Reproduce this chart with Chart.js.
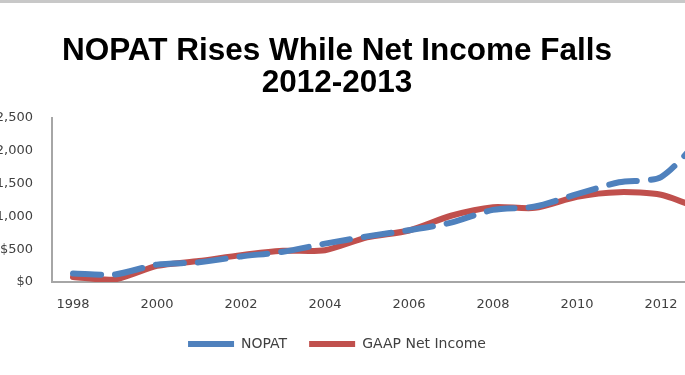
<!DOCTYPE html>
<html>
<head>
<meta charset="utf-8">
<script src="https://cdn.jsdelivr.net/npm/chart.js@4"></script>
<style>
  html, body { margin: 0; padding: 0; background: #fff; overflow: hidden; }
  body { width: 685px; height: 375px; position: relative; }
  #topEdge { position: absolute; left: 0; top: 0; width: 685px; height: 3px; background: #c8c8c8; z-index: 2; }
  #nopatChart { position: absolute; left: -50px; top: 0; }
</style>
</head>
<body>
<div id="topEdge"></div>
<canvas id="nopatChart" width="790" height="375"></canvas>
<script>
const years = ['1998', '1999', '2000', '2001', '2002', '2003', '2004', '2005',
               '2006', '2007', '2008', '2009', '2010', '2011', '2012', '2013'];
const nopat = [130, 115, 265, 300, 390, 460, 585, 695, 790, 905, 1100, 1150, 1340, 1520, 1600, 2230];
const netIncome = [75, 40, 245, 320, 410, 475, 485, 680, 785, 1010, 1140, 1130, 1300, 1370, 1330, 1100];
const yTicks = [0, 500, 1000, 1500, 2000, 2500];

let nopatChart;

document.addEventListener('DOMContentLoaded', () => {
    const ctx = document.getElementById('nopatChart').getContext('2d');
    const tickFont = { family: 'DejaVu Sans', size: 13 };

    nopatChart = new Chart(ctx, {
        type: 'line',
        data: {
            labels: years,
            datasets: [{
                label: 'NOPAT',
                data: nopat,
                borderColor: '#4f81bd',
                borderWidth: 6,
                borderDash: [28, 14],
                borderCapStyle: 'round',
                tension: 0.25,
                pointRadius: 0,
                fill: false
            }, {
                label: 'GAAP Net Income',
                data: netIncome,
                borderColor: '#c0504d',
                borderWidth: 6,
                borderCapStyle: 'round',
                tension: 0.25,
                pointRadius: 0,
                fill: false
            }]
        },
        options: {
            responsive: false,
            animation: false,
            layout: { padding: { left: 0, right: 16, top: 0, bottom: 14 } },
            plugins: {
                title: {
                    display: true,
                    text: ['NOPAT Rises While Net Income Falls', '2012-2013'],
                    color: '#000',
                    font: { family: 'Liberation Sans', size: 31.5, weight: 'bold', lineHeight: 1.0 },
                    padding: { top: 36, bottom: 19 }
                },
                legend: {
                    position: 'bottom',
                    labels: {
                        color: '#404040',
                        font: { family: 'DejaVu Sans', size: 14 },
                        usePointStyle: true,
                        pointStyleWidth: 46,
                        pointStyle: 'line',
                        boxHeight: 12,
                        padding: 22
                    }
                },
                tooltip: { enabled: false }
            },
            scales: {
                x: {
                    offset: true,
                    grid: { display: false, drawTicks: false },
                    border: { display: true, color: '#a6a6a6', width: 2 },
                    ticks: {
                        color: '#404040',
                        font: tickFont,
                        padding: 15,
                        autoSkip: false,
                        maxRotation: 0,
                        callback: (val, i) => (i % 2 === 0 ? years[i] : '')
                    },
                    afterFit: (scale) => { scale.height = 33; }
                },
                y: {
                    min: 0,
                    max: 2500,
                    grid: { display: false, drawTicks: false },
                    border: { display: true, color: '#a6a6a6', width: 2 },
                    afterBuildTicks: (scale) => { scale.ticks = yTicks.map(v => ({ value: v })); },
                    ticks: {
                        color: '#404040',
                        font: tickFont,
                        padding: 19,
                        callback: (v) => '$' + v.toLocaleString('en-US')
                    },
                    afterFit: (scale) => { scale.width = 102; }
                }
            }
        }
    });
});
</script>
</body>
</html>
